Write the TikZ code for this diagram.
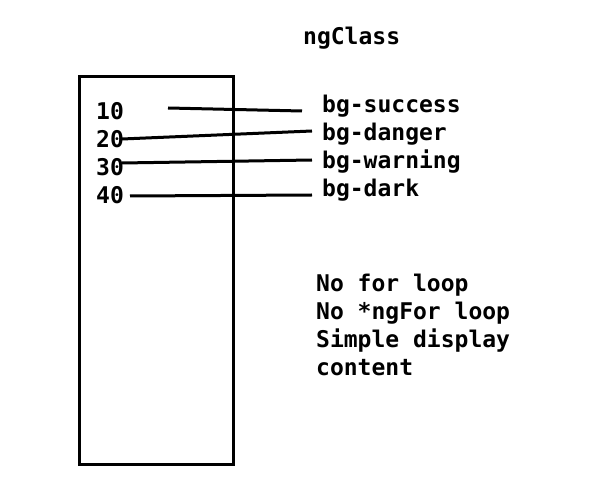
\documentclass[tikz,border=0pt]{standalone}
\usepackage{fontspec}
\setmonofont{DejaVu Sans Mono}
\begin{document}
\begin{tikzpicture}[x=1pt,y=-1pt,
  lbl/.style={anchor=base west,inner sep=0pt,font=\ttfamily\bfseries\fontsize{23}{28}\selectfont},
  conn/.style={line width=3pt},
  boxline/.style={line width=3pt}]
\useasboundingbox (0,0) rectangle (614,497);
\draw[boxline] (79,77) rectangle (233,464);
\node[lbl] (title) at (303,45) {ngClass};
\node[lbl] (n10) at (96,120) {10};
\node[lbl] (n20) at (96,148) {20};
\node[lbl] (n30) at (96,176) {30};
\node[lbl] (n40) at (96,204) {40};
\node[lbl] (c1) at (322,113) {bg-success};
\node[lbl] (c2) at (322,141) {bg-danger};
\node[lbl] (c3) at (322,169) {bg-warning};
\node[lbl] (c4) at (322,197) {bg-dark};
\coordinate (s1) at (168,108);
\coordinate (e1) at (302,111);
\coordinate (s2) at (122,139);
\coordinate (e2) at (312,131);
\coordinate (s3) at (122,163);
\coordinate (e3) at (312,160);
\coordinate (s4) at (130,196);
\coordinate (e4) at (312,195);
\draw[conn] (s1) -- (e1);
\draw[conn] (s2) -- (e2);
\draw[conn] (s3) -- (e3);
\draw[conn] (s4) -- (e4);
\node[lbl] (r1) at (316,292) {No for loop};
\node[lbl] (r2) at (316,320) {No *ngFor loop};
\node[lbl] (r3) at (316,348) {Simple display};
\node[lbl] (r4) at (316,376) {content};
\end{tikzpicture}
\end{document}
